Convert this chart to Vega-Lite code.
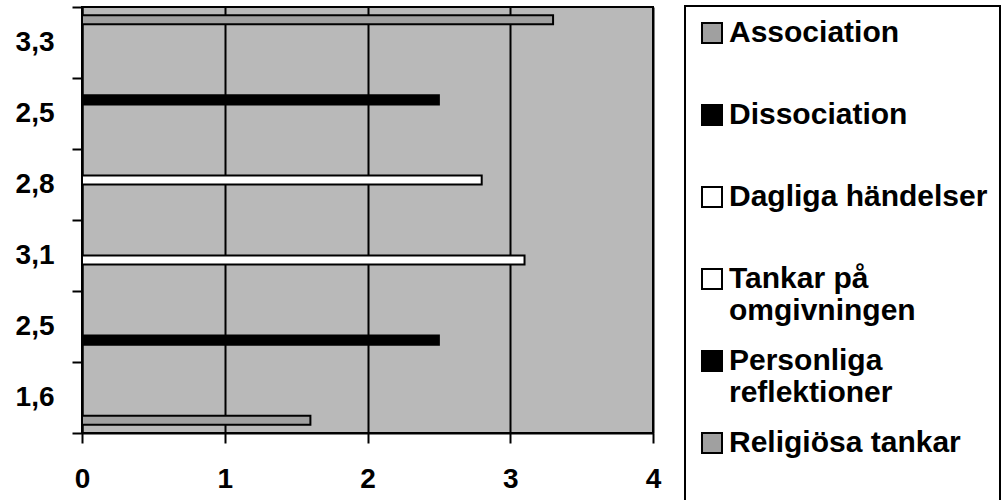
{
  "$schema": "https://vega.github.io/schema/vega-lite/v6.json",
  "width": 571,
  "height": 426,
  "autosize": {"type": "none"},
  "padding": {"left": 82, "top": 7, "right": 353, "bottom": 67},
  "background": "white",
  "config": {
    "font": "Liberation Sans",
    "view": {"fill": "#b9b9b9", "stroke": "black", "strokeWidth": 2},
    "legend": {"strokeWidth": 2}
  },
  "data": {
    "values": [
      {"serie": "Association", "medel": 3.3},
      {"serie": "Dissociation", "medel": 2.5},
      {"serie": "Dagliga händelser", "medel": 2.8},
      {"serie": "Tankar på omgivningen", "medel": 3.1},
      {"serie": "Personliga reflektioner", "medel": 2.5},
      {"serie": "Religiösa tankar", "medel": 1.6}
    ]
  },
  "mark": {"type": "bar", "stroke": "black", "strokeWidth": 2},
  "encoding": {
    "x": {
      "field": "medel",
      "type": "quantitative",
      "scale": {"domain": [0, 4], "nice": false},
      "axis": {
        "title": null,
        "values": [0, 1, 2, 3, 4],
        "grid": true,
        "gridColor": "black",
        "gridWidth": 2,
        "gridOpacity": 1,
        "domainColor": "black",
        "domainWidth": 2,
        "tickColor": "black",
        "tickWidth": 2,
        "tickSize": 10,
        "labelFontSize": 28,
        "labelFontWeight": "bold",
        "labelColor": "black",
        "labelPadding": 22,
        "labelFlush": false
      }
    },
    "y": {
      "field": "serie",
      "type": "nominal",
      "sort": ["Association", "Dissociation", "Dagliga händelser", "Tankar på omgivningen", "Personliga reflektioner", "Religiösa tankar"],
      "scale": {"paddingInner": 0, "paddingOuter": 0},
      "axis": {
        "title": null,
        "tickBand": "extent",
        "labelExpr": "datum.value == 'Association' ? '3,3' : datum.value == 'Dissociation' ? '2,5' : datum.value == 'Dagliga händelser' ? '2,8' : datum.value == 'Tankar på omgivningen' ? '3,1' : datum.value == 'Personliga reflektioner' ? '2,5' : datum.value == 'Religiösa tankar' ? '1,6' : ''",
        "tickSize": 10,
        "tickWidth": 2,
        "tickColor": "black",
        "domainColor": "black",
        "domainWidth": 2,
        "labelFontSize": 28,
        "labelFontWeight": "bold",
        "labelColor": "black",
        "labelPadding": 18,
        "grid": false
      }
    },
    "yOffset": {
      "field": "serie",
      "type": "nominal",
      "sort": ["Association", "Dissociation", "Dagliga händelser", "Tankar på omgivningen", "Personliga reflektioner", "Religiösa tankar"],
      "scale": {"paddingInner": 0, "paddingOuter": 0.9}
    },
    "color": {
      "field": "serie",
      "type": "nominal",
      "scale": {
        "domain": ["Association", "Dissociation", "Dagliga händelser", "Tankar på omgivningen", "Personliga reflektioner", "Religiösa tankar"],
        "range": ["#a0a0a0", "#000000", "#ffffff", "#ffffff", "#000000", "#a0a0a0"]
      },
      "legend": {
        "title": null,
        "orient": "none",
        "legendX": 603,
        "legendY": -1,
        "strokeColor": "black",
        "fillColor": "white",
        "padding": 12,
        "symbolType": "square",
        "symbolSize": 400,
        "symbolStrokeColor": "black",
        "symbolStrokeWidth": 2,
        "symbolOpacity": 1,
        "labelFontSize": 30,
        "labelFontWeight": "bold",
        "labelColor": "black",
        "labelOffset": 2,
        "labelLimit": 400,
        "rowPadding": 20,
        "gridAlign": "all",
        "labelBaseline": "middle",
        "labelExpr": "datum.label == 'Tankar på omgivningen' ? ['Tankar på', 'omgivningen'] : datum.label == 'Personliga reflektioner' ? ['Personliga', 'reflektioner'] : datum.label == 'Religiösa tankar' ? ['Religiösa tankar', ' '] : datum.label"
      }
    }
  }
}
